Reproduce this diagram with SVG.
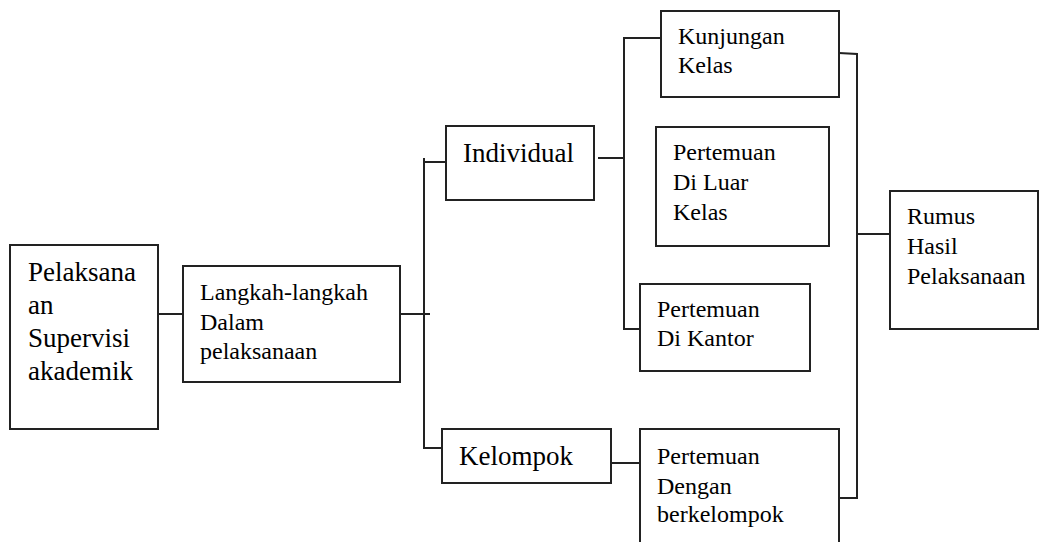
<svg xmlns="http://www.w3.org/2000/svg" width="1040" height="542" viewBox="0 0 1040 542">
<style>
.box{fill:#fff;stroke:#222;stroke-width:2}
.ln{fill:none;stroke:#222;stroke-width:2}
.t{font-family:'Liberation Serif','Times New Roman','DejaVu Serif',serif;fill:#000;font-size:24px}
.big{font-size:27px}
</style>
<rect width="1040" height="542" fill="#fff"/>
<g id="connectors">
<path class="ln" d="M158 314H193"/>
<path class="ln" d="M400 314H430"/>
<path class="ln" d="M424 158V448H442"/>
<path class="ln" d="M424 162H458"/>
<path class="ln" d="M598 158H624"/>
<path class="ln" d="M661 38H624V329H640"/>
<path class="ln" d="M612 463H643"/>
<path class="ln" d="M839 53L857 54V498"/>
<path class="ln" d="M832 498H858"/>
<path class="ln" d="M858 234H890"/>
<path class="ln" d="M890 200H912"/>
</g>
<g id="pelaksana" class="t" font-family="Liberation Serif, serif">
<rect class="box" x="10" y="245" width="148" height="184"/>
<text class="big" x="28" y="281">Pelaksana</text>
<text class="big" x="28" y="314">an</text>
<text class="big" x="28" y="347">Supervisi</text>
<text class="big" x="28" y="380">akademik</text>
</g>
<g id="langkah" class="t" font-family="Liberation Serif, serif">
<rect class="box" x="183" y="266" width="217" height="116"/>
<text x="200" y="300">Langkah-langkah</text>
<text x="200" y="330">Dalam</text>
<text x="200" y="359">pelaksanaan</text>
</g>
<g id="individual" class="t" font-family="Liberation Serif, serif">
<rect class="box" x="446" y="126" width="148" height="74"/>
<text class="big" x="463" y="162">Individual</text>
</g>
<g id="kelompok" class="t" font-family="Liberation Serif, serif">
<rect class="box" x="442" y="429" width="169" height="54"/>
<text class="big" x="459" y="465">Kelompok</text>
</g>
<g id="kunjungan" class="t" font-family="Liberation Serif, serif">
<rect class="box" x="661" y="11" width="178" height="86"/>
<text x="678" y="44">Kunjungan</text>
<text x="678" y="73">Kelas</text>
</g>
<g id="luar" class="t" font-family="Liberation Serif, serif">
<rect class="box" x="656" y="127" width="173" height="119"/>
<text x="673" y="160">Pertemuan</text>
<text x="673" y="190">Di Luar</text>
<text x="673" y="220">Kelas</text>
</g>
<g id="kantor" class="t" font-family="Liberation Serif, serif">
<rect class="box" x="640" y="284" width="170" height="87"/>
<text x="657" y="317">Pertemuan</text>
<text x="657" y="346">Di Kantor</text>
</g>
<g id="dengan" class="t" font-family="Liberation Serif, serif">
<path class="box" d="M640 542V429H839V542"/>
<text x="657" y="464">Pertemuan</text>
<text x="657" y="494">Dengan</text>
<text x="657" y="522">berkelompok</text>
</g>
<g id="rumus" class="t" font-family="Liberation Serif, serif">
<rect class="box" x="890" y="191" width="148" height="138"/>
<text x="907" y="224">Rumus</text>
<text x="907" y="254">Hasil</text>
<text x="907" y="284">Pelaksanaan</text>
</g>
</svg>
